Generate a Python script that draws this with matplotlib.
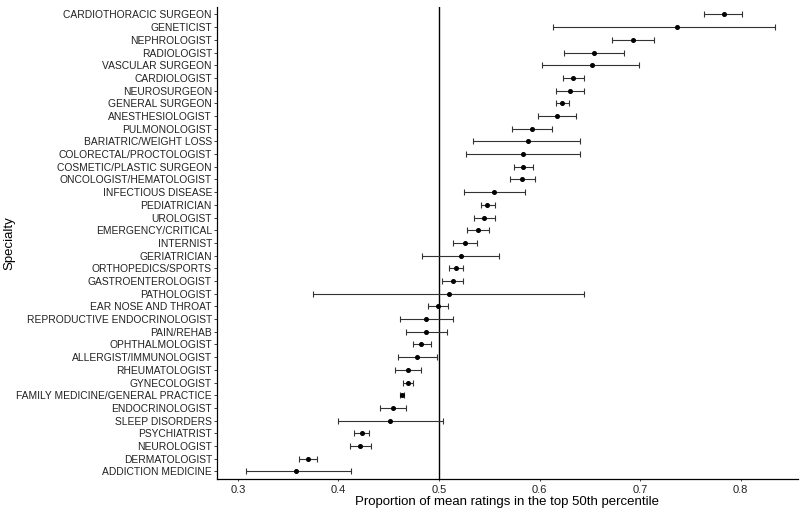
import matplotlib.pyplot as plt
import numpy as np

plt.rcParams['font.family'] = ['Liberation Sans', 'DejaVu Sans']

# specialties, top to bottom
specialty = [
    "CARDIOTHORACIC SURGEON", "GENETICIST", "NEPHROLOGIST", "RADIOLOGIST",
    "VASCULAR SURGEON", "CARDIOLOGIST", "NEUROSURGEON", "GENERAL SURGEON",
    "ANESTHESIOLOGIST", "PULMONOLOGIST", "BARIATRIC/WEIGHT LOSS",
    "COLORECTAL/PROCTOLOGIST", "COSMETIC/PLASTIC SURGEON",
    "ONCOLOGIST/HEMATOLOGIST", "INFECTIOUS DISEASE", "PEDIATRICIAN",
    "UROLOGIST", "EMERGENCY/CRITICAL", "INTERNIST", "GERIATRICIAN",
    "ORTHOPEDICS/SPORTS", "GASTROENTEROLOGIST", "PATHOLOGIST",
    "EAR NOSE AND THROAT", "REPRODUCTIVE ENDOCRINOLOGIST", "PAIN/REHAB",
    "OPHTHALMOLOGIST", "ALLERGIST/IMMUNOLOGIST", "RHEUMATOLOGIST",
    "GYNECOLOGIST", "FAMILY MEDICINE/GENERAL PRACTICE", "ENDOCRINOLOGIST",
    "SLEEP DISORDERS", "PSYCHIATRIST", "NEUROLOGIST", "DERMATOLOGIST",
    "ADDICTION MEDICINE",
]
proportion = [
    0.783, 0.737, 0.693, 0.654, 0.652, 0.633, 0.630, 0.622, 0.617, 0.592,
    0.588, 0.584, 0.584, 0.583, 0.555, 0.548, 0.545, 0.539, 0.526, 0.522,
    0.517, 0.514, 0.510, 0.499, 0.487, 0.487, 0.482, 0.478, 0.469, 0.469,
    0.463, 0.454, 0.451, 0.423, 0.421, 0.370, 0.358,
]
lower = [
    0.764, 0.613, 0.672, 0.624, 0.602, 0.623, 0.616, 0.616, 0.598, 0.573,
    0.534, 0.527, 0.575, 0.571, 0.525, 0.542, 0.535, 0.528, 0.514, 0.483,
    0.510, 0.503, 0.375, 0.489, 0.461, 0.467, 0.474, 0.459, 0.456, 0.464,
    0.461, 0.441, 0.400, 0.415, 0.411, 0.361, 0.308,
]
upper = [
    0.801, 0.834, 0.714, 0.684, 0.699, 0.644, 0.644, 0.629, 0.636, 0.612,
    0.640, 0.640, 0.593, 0.595, 0.586, 0.556, 0.556, 0.550, 0.538, 0.560,
    0.524, 0.524, 0.644, 0.509, 0.514, 0.508, 0.492, 0.498, 0.482, 0.474,
    0.465, 0.467, 0.504, 0.430, 0.432, 0.379, 0.412,
]

p = np.array(proportion)
err = np.vstack([p - np.array(lower), np.array(upper) - p])
y = np.arange(len(specialty))

fig = plt.figure(figsize=(8, 5.11), dpi=100)
ax = fig.add_axes([0.271, 0.0626, 0.7265, 0.924])

ax.axvline(0.5, color='black', linewidth=1.0, zorder=1)
ax.errorbar(p, y, xerr=err, fmt='o', color='black', ecolor='#333333',
            elinewidth=0.8, capsize=2, capthick=0.8, markersize=2.6, zorder=2)

ax.set_yticks(y)
ax.set_yticklabels(specialty, fontsize=7.4)
ax.set_ylim(len(specialty) - 1 + 0.6, -0.6)
ax.set_xlim(0.279, 0.857)
ax.set_xticks([0.3, 0.4, 0.5, 0.6, 0.7, 0.8])
ax.set_xticklabels(['0.3', '0.4', '0.5', '0.6', '0.7', '0.8'], fontsize=8, color='#222222')
ax.tick_params(axis='y', length=2.5, width=0.6, pad=1, colors='#222222')
ax.tick_params(axis='x', length=1.5, width=0.6, pad=2.5, colors='#222222')

ax.spines['top'].set_visible(False)
ax.spines['right'].set_visible(False)
ax.spines['left'].set_linewidth(0.9)
ax.spines['bottom'].set_linewidth(0.9)

ax.set_xlabel('Proportion of mean ratings in the top 50th percentile', fontsize=9.5, labelpad=1)
ax.set_ylabel('Specialty', fontsize=9.5)
ax.yaxis.set_label_coords(-0.346, 0.5)

fig.savefig('out.png', dpi=100)
